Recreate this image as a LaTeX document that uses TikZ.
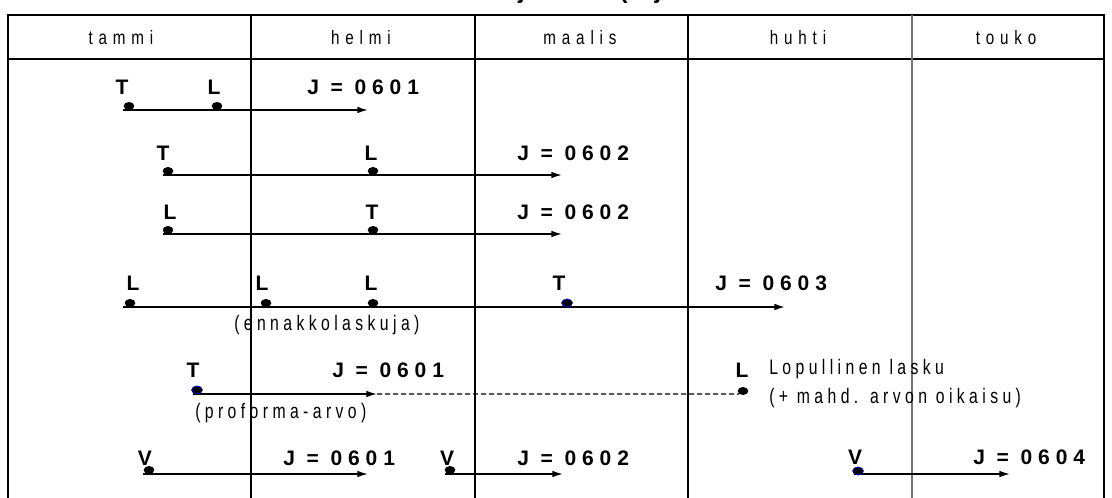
\documentclass[tikz,border=0pt]{standalone}
\usepackage{fontspec}
\setmainfont{Liberation Sans}
\newfontfamily\lblfont{Liberation Sans}[LetterSpace=28]
\newfontfamily\headfont{Liberation Sans}[FakeStretch=0.78,LetterSpace=30]
\newfontfamily\notefont{Liberation Sans}[FakeStretch=0.75,LetterSpace=21]
\usetikzlibrary{arrows.meta,shapes.geometric}
\begin{document}
\begin{tikzpicture}[x=0.75pt,y=-0.75pt,
  grid/.style={line width=1.1pt},
  greygrid/.style={line width=1.3pt,draw=black!55},
  arr/.style={line width=1.1pt,-{Latex[length=8pt,width=5pt]}},
  dashline/.style={line width=1pt,dash pattern=on 3.75pt off 2.25pt},
  dot/.style={ellipse,minimum width=8pt,minimum height=6pt,fill=black,inner sep=0pt},
  bdot/.style={dot,draw=blue!75!black,line width=0.6pt},
  lbl/.style={font=\lblfont\bfseries\fontsize{15.75}{18}\selectfont,inner sep=0pt},
  jlbl/.style={lbl,anchor=west},
  note/.style={font=\notefont\fontsize{15.75}{18}\selectfont,inner sep=0pt,anchor=west},
  head/.style={font=\headfont\fontsize{14.6}{17}\selectfont,inner sep=0pt}]
\useasboundingbox (0,0) rectangle (1112,498);
\fill[white] (0,0) rectangle (1112,498);

% title (only its descenders show, the rest is cut off at the top)
\begin{scope}
  \clip (300,0) rectangle (800,12);
  \node[lbl,anchor=base west,font=\lblfont\bfseries\fontsize{18}{20}\selectfont] (title) at (331,-1) {Tilastointijakso (ajankohta)};
\end{scope}

\begin{scope}
\clip (0,0) rectangle (1112,498);
% grid
\draw[grid] (8,520) -- (8,15) -- (1104,15) -- (1104,520);
\draw[grid] (8,59) -- (1104,59);
\draw[grid] (251,15) -- (251,520);
\draw[grid] (475,15) -- (475,520);
\draw[grid] (688,15) -- (688,520);
\draw[greygrid] (912,15) -- (912,520);
\end{scope}

% header
\node[head] (m1) at (121,38) {tammi};
\node[head] (m2) at (361,38) {helmi};
\node[head] (m3) at (580,38) {maalis};
\node[head] (m4) at (798,38) {huhti};
\node[head] (m5) at (1006,38) {touko};

% row 1
\coordinate (r1s) at (123,110); \coordinate (r1e) at (368,110);
\draw[arr] (r1s) -- (r1e);
\node[dot] (d11) at (129,106) {}; \node[dot] (d12) at (217,106) {};
\node[lbl] (t11) at (122,87) {T}; \node[lbl] (t12) at (214,87) {L};
\node[jlbl] (j1) at (307,87) {J = 0601};

% row 2
\coordinate (r2s) at (163,175); \coordinate (r2e) at (562,175);
\draw[arr] (r2s) -- (r2e);
\node[dot] (d21) at (168,171) {}; \node[dot] (d22) at (373,171) {};
\node[lbl] (t21) at (163,153) {T}; \node[lbl] (t22) at (371,153) {L};
\node[jlbl] (j2) at (517,153) {J = 0602};

% row 3
\coordinate (r3s) at (163,234); \coordinate (r3e) at (562,234);
\draw[arr] (r3s) -- (r3e);
\node[dot] (d31) at (168,230) {}; \node[dot] (d32) at (373,230) {};
\node[lbl] (t31) at (170,212) {L}; \node[lbl] (t32) at (372,212) {T};
\node[jlbl] (j3) at (517,212) {J = 0602};

% row 4
\coordinate (r4s) at (123,307); \coordinate (r4e) at (785,307);
\draw[arr] (r4s) -- (r4e);
\node[dot] (d41) at (130,303) {}; \node[dot] (d42) at (266,303) {};
\node[dot] (d43) at (373,303) {}; \node[bdot] (d44) at (567,303) {};
\node[lbl] (t41) at (133,283) {L}; \node[lbl] (t42) at (262,283) {L};
\node[lbl] (t43) at (371,283) {L}; \node[lbl] (t44) at (559,283) {T};
\node[jlbl] (j4) at (715,283) {J = 0603};
\node[note] (n4) at (234,325) {(ennakkolaskuja)};

% row 5
\coordinate (r5s) at (193,394); \coordinate (r5e) at (377,394);
\node[dot] (d52) at (743,391) {};
\draw[arr] (r5s) -- (r5e);
\draw[dashline] (r5e) -- (d52.south west);
\node[bdot] (d51) at (197,390) {};
\node[lbl] (t51) at (193,370) {T};
\node[jlbl] (j5) at (332,370) {J = 0601};
\node[lbl] (t52) at (742,370) {L};
\node[note] (n51) at (195,413) {(proforma-arvo)};
\node[note] (n52) at (769,369) {Lopullinen lasku};
\node[note] (n53) at (769,398) {(+ mahd. arvon oikaisu)};

% row 6
\coordinate (r6as) at (143,474); \coordinate (r6ae) at (368,474);
\coordinate (r6bs) at (445,474); \coordinate (r6be) at (563,474);
\coordinate (r6cs) at (854,474); \coordinate (r6ce) at (1010,474);
\draw[arr] (r6as) -- (r6ae);
\draw[arr] (r6bs) -- (r6be);
\draw[arr] (r6cs) -- (r6ce);
\node[dot] (d61) at (149,470) {}; \node[dot] (d62) at (450,470) {};
\node[bdot] (d63) at (858,471) {};
\node[lbl] (t61) at (145,458) {V}; \node[lbl] (t62) at (447,458) {V};
\node[lbl] (t63) at (855,457) {V};
\node[jlbl] (j61) at (283,458) {J = 0601};
\node[jlbl] (j62) at (517,458) {J = 0602};
\node[jlbl] (j63) at (973,457) {J = 0604};
\end{tikzpicture}
\end{document}
